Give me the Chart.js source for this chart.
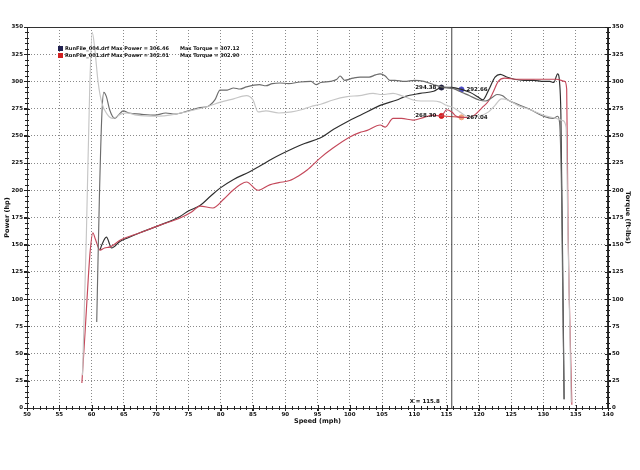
<!DOCTYPE html>
<html><head><meta charset="utf-8">
<script src="https://cdn.jsdelivr.net/npm/chart.js@4.4.1/dist/chart.umd.min.js"></script>
<style>html,body{margin:0;padding:0;background:#fff}canvas{display:block}</style>
</head><body>
<canvas id="c" width="640" height="470"></canvas>
<script>
// ---- Data (speed in mph, values in hp / ft-lbs) ----
const xTicks = [50,55,60,65,70,75,80,85,90,95,100,105,110,115,120,125,130,135,140];
const yTicks = [0,25,50,75,100,125,150,175,200,225,250,275,300,325,350];

const power004Speed = [61.3,61.6,62.3,63.1,64.4,65.5,67.5,70.6,73.7,75,76.8,78.5,79.9,82,84.5,86,88,90.7,93,95.4,97.5,99.6,102,104.7,107.3,108.5,110.9,113,114.2,115.8,117.3,118.6,119.8,120.6,121.5,122.5,123.3,124.3,125.5,127,128.5,130,131,131.6,132.2,132.5,132.7,133.0,133.2];
const power004 =      [145,150,157,147,153,156,161,168,176,181,186,195,202,210,217,222,229,237,243,248,256,263,270,278,283,286,289,291,294.4,294.5,292.7,290,286,283,292,304,306.5,304,302,301,301,300,300,299,307,299,270,120,8];

const torque004Speed = [60.8,61.2,61.6,61.9,62.3,62.8,63.6,64.3,64.9,65.8,67.5,69.8,71.5,72.9,75,76.8,78,79.1,79.9,81,82,83,84,86,87,88,89.2,90.5,92.3,94,94.8,95.5,97,98,98.5,99.2,100.5,101.6,103,104,104.7,105.5,106.2,107,108.5,110,111.5,113,114.2,115.8,117,118.5,120,121,122,122.8,123.6,124.5,126,128,130,131.5,132.2,132.5,132.8,133.0,133.2];
const torque004 =      [79,190,270,290,286,274,266,270,273,271,270,269,271,270,273,276,277,283,292,292,294,293,295,297,296,298,298.6,298,299.5,300,297,299,300,302,305,301,303,304,304,306,307,305,301,301,300,301,300,297,295,294,291,287,283,282,285,288,287,283,279,274,268,266,268,262,200,100,8];

const power001Speed = [58.5,59.0,59.5,59.8,60.2,60.6,61.3,62.0,62.9,64.4,67.5,70.6,73.7,75.5,76.8,78.8,80.5,81.9,83,84,85.8,87.6,89,90.7,92,93.4,95.4,97.4,100,101.5,102.7,104.7,105.5,106.7,108,109.8,111.5,112.9,114.2,115,115.8,116.5,117.3,118.5,119.5,120.5,121.5,122.2,123,124,126,128,130,132,133.3,133.6,133.8,134.4];
const power001 =      [23,70,120,145,161,155,145,147,148,154,161,168,174.5,180,185.5,183.7,192,200,205,207.6,200,205,207,209,213,218.6,229.6,238.8,249,253,255,260,258,266,266,264.5,267,269,268.3,274,272,268,267,267,270,276,282,290,300,303,302,302,302,302,300,293,170,3];

const torque001Speed = [58.6,59.2,59.7,60.1,60.5,61.0,61.6,62.4,63.3,64.5,65.5,67,70,73,76,78,80,82,84,85,85.8,87,89,91,92.5,94,95.5,97.4,99.6,101.5,103.6,105,106.7,108,109.8,111,112.9,114,115,116,117.3,118.5,120,121.5,122.5,123.5,124.5,126,128,130,132,133,133.5,133.8,134.3];
const torque001 =      [30,160,290,345,330,300,280,270,266,270,271,269,268,270,274,277,281,284,287,283,272,273,271,272,274,277,279,283,286,287,289,288,289,287,283,282,282,281,278,276,271,267,268,272,278,284,283,278,274,269,266,264,258,160,5];

const cursorSpeed = 115.8;
const markerSpeed = [114.2, 117.3, 114.2, 117.3];
const markerValue = [294.38, 292.66, 268.30, 267.04];
const markerLabels = ['294.38','292.66','268.30','267.04'];
const markerColors = ['#1c1c3c','#4848c8','#d81818','#f0a078'];

const legendFiles = ['RunFile_004.drf Max Power = 306.46', 'RunFile_001.drf Max Power = 302.01'];
const legendTorque = ['Max Torque = 307.12', 'Max Torque = 302.90'];
const legendColors = ['#202050', '#d02020'];

// ---- build datasets ----
const pts = (xs, ys) => xs.map((x, i) => ({x: x, y: ys[i]}));
const lineDs = (label, xs, ys, color, axis, w) => ({
  label, data: pts(xs, ys), borderColor: color, borderWidth: w || 1.15,
  pointRadius: 0, cubicInterpolationMode: 'monotone', yAxisID: axis, fill: false
});

const datasets = [
  lineDs('Torque 001', torque001Speed, torque001, '#c6c6c6', 'y2'),
  lineDs('Torque 004', torque004Speed, torque004, '#6c6c6c', 'y2'),
  lineDs('Power 001', power001Speed, power001, '#c4485a', 'y'),
  lineDs('Power 004', power004Speed, power004, '#2e2e2e', 'y'),
  {label:'cursor', data:[{x:cursorSpeed,y:0},{x:cursorSpeed,y:350}], borderColor:'#404040', borderWidth:1, pointRadius:0, yAxisID:'y'},
  {label:'m004', data:pts(markerSpeed.slice(0,2), markerValue.slice(0,2)), borderColor:'#777', borderWidth:1, pointRadius:0, yAxisID:'y'},
  {label:'m001', data:pts(markerSpeed.slice(2,4), markerValue.slice(2,4)), borderColor:'#d04040', borderWidth:1, pointRadius:0, yAxisID:'y'},
  {label:'markers', data:pts(markerSpeed, markerValue), showLine:false, pointRadius:2.5,
   pointBackgroundColor: markerColors, pointBorderColor: markerColors, yAxisID:'y'}
];

const FONT = 'DejaVu Sans';

const extras = {
  id: 'extras',
  afterDraw(chart) {
    const ctx = chart.ctx, a = chart.chartArea;
    const xs = chart.scales.x, ys = chart.scales.y;
    ctx.save();
    // frame
    ctx.strokeStyle = '#333'; ctx.lineWidth = 1;
    ctx.strokeRect(a.left + 0.5, a.top + 0.5, a.right - a.left - 1, a.bottom - a.top);
    // minor ticks on x axis
    ctx.strokeStyle = '#222';
    ctx.beginPath();
    for (let v = 50; v <= 140; v++) {
      const px = Math.round(xs.getPixelForValue(v)) + 0.5;
      const len = v % 5 === 0 ? 3 : 2;
      ctx.moveTo(px, a.bottom - len); ctx.lineTo(px, a.bottom + len);
    }
    // minor ticks on y axes
    for (let v = 0; v <= 350; v += 5) {
      const py = Math.round(ys.getPixelForValue(v)) + 0.5;
      const len = v % 25 === 0 ? 3 : 2;
      ctx.moveTo(a.left - len, py); ctx.lineTo(a.left + len, py);
      ctx.moveTo(a.right - len, py); ctx.lineTo(a.right + len, py);
    }
    ctx.stroke();
    // marker labels
    ctx.fillStyle = '#111';
    ctx.font = 'bold 5.5px "' + FONT + '"';
    ctx.textBaseline = 'middle';
    markerLabels.forEach((t, i) => {
      const px = xs.getPixelForValue(markerSpeed[i]);
      const py = ys.getPixelForValue(markerValue[i]);
      if (i % 2 === 0) { ctx.textAlign = 'right'; ctx.fillText(t, px - 5, py); }
      else { ctx.textAlign = 'left'; ctx.fillText(t, px + 5, py); }
    });
    // cursor label
    const cx = xs.getPixelForValue(cursorSpeed);
    ctx.textAlign = 'right';
    ctx.fillText('X = ' + cursorSpeed.toFixed(1), cx - 12, a.bottom - 6);
    // legend
    ctx.textAlign = 'left';
    ctx.font = 'bold 5px "' + FONT + '"';
    legendFiles.forEach((t, i) => {
      const y = 49 + i * 7;
      ctx.fillStyle = legendColors[i];
      ctx.fillRect(58, y - 3, 5, 5);
      ctx.fillStyle = '#111';
      ctx.fillText(t, 65, y);
      ctx.fillText(legendTorque[i], 180, y);
    });
    ctx.restore();
  }
};

const tickFont = {family: FONT, size: 5.5, weight: 'bold'};
const titleFont = {family: FONT, size: 6.5, weight: 'bold'};
const gridCfg = {color: '#8a8a8a', lineWidth: 1, tickLength: 3, tickColor: '#222'};

new Chart(document.getElementById('c'), {
  type: 'line',
  data: {datasets},
  options: {
    responsive: false, animation: false, events: [],
    layout: {padding: {left: 3, right: 8, top: 27, bottom: 45}},
    plugins: {legend: {display: false}, tooltip: {enabled: false}},
    scales: {
      x: {
        type: 'linear', position: 'bottom', min: 50, max: 140,
        afterBuildTicks: s => { s.ticks = xTicks.map(v => ({value: v})); },
        ticks: {font: tickFont, color: '#111', padding: 0, maxRotation: 0, autoSkip: false},
        grid: gridCfg,
        border: {display: true, color: '#222', width: 1, dash: [1, 2]},
        title: {display: true, text: 'Speed (mph)', font: titleFont, color: '#111', padding: {top: 0, bottom: 0}},
        afterFit: s => { s.height = 17; }
      },
      y: {
        type: 'linear', position: 'left', min: 0, max: 350,
        afterBuildTicks: s => { s.ticks = yTicks.map(v => ({value: v})); },
        ticks: {font: tickFont, color: '#111', padding: 1, autoSkip: false},
        grid: gridCfg,
        border: {display: true, color: '#222', width: 1, dash: [1, 2]},
        title: {display: true, text: 'Power (hp)', font: titleFont, color: '#111', padding: 0},
        afterFit: s => { s.width = 24; }
      },
      y2: {
        type: 'linear', position: 'right', min: 0, max: 350,
        afterBuildTicks: s => { s.ticks = yTicks.map(v => ({value: v})); },
        ticks: {font: tickFont, color: '#111', padding: 1, autoSkip: false},
        grid: {drawOnChartArea: false, tickLength: 3, tickColor: '#222'},
        border: {display: true, color: '#222', width: 1},
        title: {display: true, text: 'Torque (ft-lbs)', font: titleFont, color: '#111', padding: 0},
        afterFit: s => { s.width = 24; }
      }
    }
  },
  plugins: [extras]
});
</script>
</body></html>
